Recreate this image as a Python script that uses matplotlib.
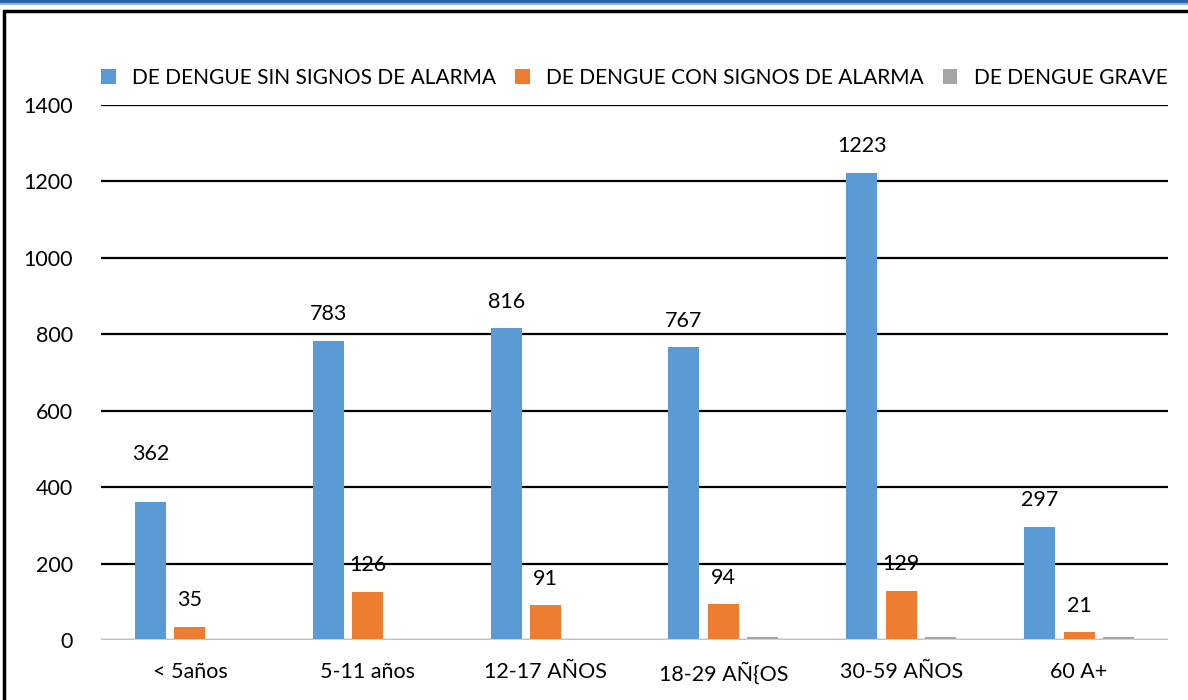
import numpy as np
import matplotlib.pyplot as plt
from matplotlib.patches import Rectangle

# datos
categorias = ['< 5años', '5-11 años', '12-17 AÑOS', '18-29 AÑ{OS', '30-59 AÑOS', '60 A+']
sin_signos = [362, 783, 816, 767, 1223, 297]
con_signos = [35, 126, 91, 94, 129, 21]
grave = [0, 0, 0, 8, 8, 8]
series = ['DE DENGUE SIN SIGNOS DE ALARMA', 'DE DENGUE CON SIGNOS DE ALARMA', 'DE DENGUE GRAVE']

plt.rcParams['font.family'] = ['Lato', 'DejaVu Sans']

fig = plt.figure(figsize=(11.88, 7), dpi=100)
ax = fig.add_axes([101/1188, 1-640/700, (1168-101)/1188, (640-105)/700])

x = np.arange(len(categorias))
w = 0.175
paso = 0.222
colores = ['#5b9bd5', '#ed7d31', '#a5a5a5']
datos = [sin_signos, con_signos, grave]
for i, (d, c, s) in enumerate(zip(datos, colores, series)):
    ax.bar(x + (i-1)*paso, d, w, color=c, label=s, zorder=3)

# etiquetas de datos (solo las dos primeras series)
for i, d in enumerate(datos[:2]):
    for j, v in enumerate(d):
        extra = 15 if (i == 0 and j == 0) else 0
        ax.annotate(str(v), (x[j] + (i-1)*paso, v), xytext=(0, 19 + extra),
                    textcoords='offset points', ha='center', va='center', fontsize=15.5)

ax.set_ylim(0, 1400)
ax.set_xlim(-0.5, len(categorias) - 0.5)
ax.set_yticks(range(0, 1401, 200))
ax.set_xticks(x)
ax.set_xticklabels(categorias)
ax.tick_params(length=0, labelsize=15.5)
ax.tick_params(axis='y', pad=20)
ax.tick_params(axis='x', pad=16)
for sp in ax.spines.values():
    sp.set_visible(False)
ax.yaxis.grid(True, color='black', linewidth=1.6, zorder=0)
ax.axhline(0, color='#d9d9d9', linewidth=2, zorder=4)

ax.legend(loc='center', bbox_to_anchor=(0.5, 1 + 27/535), ncol=3, frameon=False,
          fontsize=15, handlelength=0.7, handleheight=0.7, handletextpad=0.8,
          columnspacing=0.9, borderaxespad=0)

# marco negro y linea azul superior
fig.patches.append(Rectangle((4/1188, -0.1), 1.2, 1 - 11/700 + 0.1, transform=fig.transFigure,
                             fill=False, edgecolor='black', linewidth=2.5, clip_on=False))
fig.patches.append(Rectangle((0, 1 - 3/700), 1, 3/700, transform=fig.transFigure,
                             facecolor='#2f5fa6', edgecolor='none'))
fig.patches.append(Rectangle((0, 1 - 5/700), 1, 2/700, transform=fig.transFigure,
                             facecolor='#8fb4e3', edgecolor='none'))

plt.savefig('out.png', dpi=100)
